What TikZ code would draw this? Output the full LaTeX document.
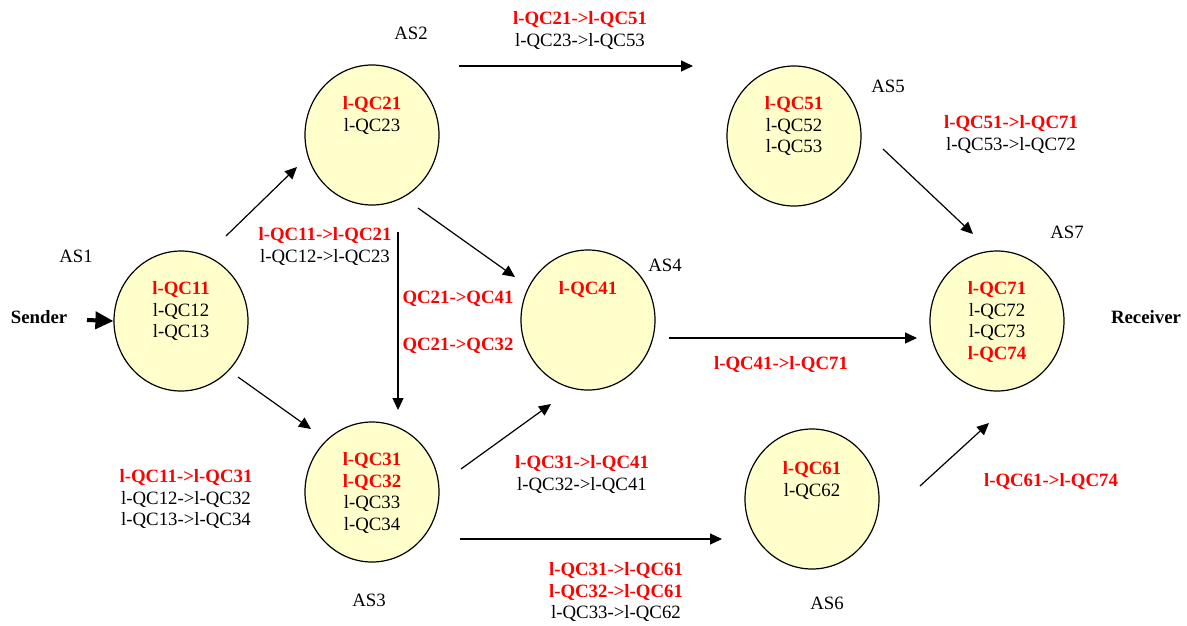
\documentclass[tikz,border=0pt]{standalone}
\usepackage{fontspec}
\setmainfont{Liberation Serif}
\usetikzlibrary{arrows.meta,shapes.geometric}
\definecolor{asfill}{HTML}{FFFFCC}
\definecolor{qcred}{HTML}{FF0000}
\newcommand\redqc[1]{{\color{qcred}\bfseries #1}}

\begin{document}
\begin{tikzpicture}[x=1pt,y=-1pt,
  asnode/.style={ellipse,draw=black,line width=1.2pt,fill=asfill,
    minimum width=134pt,minimum height=140pt,inner sep=0pt},
  txt/.style={inner sep=0pt,align=center,font=\fontsize{18.8}{21.5}\selectfont},
  qclist/.style={txt,anchor=north},
  boldtxt/.style={txt,font=\fontsize{18.8}{21.5}\selectfont\bfseries},
  redtxt/.style={boldtxt,text=qcred},
  flow/.style={line width=1.2pt,-{Triangle[length=12pt,width=11pt]}},
]
% canvas
\useasboundingbox (0,0) rectangle (1187,625);

% autonomous systems
\node[asnode] (as1) at (181,321) {};
\node[asnode] (as2) at (372,135) {};
\node[asnode] (as3) at (372,492) {};
\node[asnode] (as4) at (588,320) {};
\node[asnode] (as5) at (794,136) {};
\node[asnode] (as6) at (812,499) {};
\node[asnode] (as7) at (997,321) {};

% QC lists inside each AS
\node[qclist] (q1) at (181,281.5) {\redqc{l-QC11}\\l-QC12\\l-QC13};
\node[qclist] (q2) at (372,96.5)  {\redqc{l-QC21}\\l-QC23};
\node[qclist] (q3) at (372,452.5) {\redqc{l-QC31}\\\redqc{l-QC32}\\l-QC33\\l-QC34};
\node[qclist] (q4) at (588,281.5) {\redqc{l-QC41}};
\node[qclist] (q5) at (794,96.5)  {\redqc{l-QC51}\\l-QC52\\l-QC53};
\node[qclist] (q6) at (812,461.5) {\redqc{l-QC61}\\l-QC62};
\node[qclist] (q7) at (997,281.5) {\redqc{l-QC71}\\l-QC72\\l-QC73\\\redqc{l-QC74}};

% AS names
\node[txt] (n1) at (76,256)   {AS1};
\node[txt] (n2) at (411,33)   {AS2};
\node[txt] (n3) at (369,600)  {AS3};
\node[txt] (n4) at (665,265)  {AS4};
\node[txt] (n5) at (888,86)   {AS5};
\node[txt] (n6) at (827,603)  {AS6};
\node[txt] (n7) at (1067,232) {AS7};

% end points
\node[boldtxt] (sender) at (39,317) {Sender};
\node[boldtxt] (receiver) at (1146,317) {Receiver};
\coordinate (sendtail) at (87,320);
\draw[line width=4pt,-{Triangle[length=18pt,width=17pt]}] (sendtail) -- (as1.west);

% connector end points
\coordinate (c12a) at (226,236); \coordinate (c12b) at (297,167);
\coordinate (c13a) at (238,377); \coordinate (c13b) at (311,429);
\coordinate (c23a) at (398,232); \coordinate (c23b) at (398,410);
\coordinate (c24a) at (418,208); \coordinate (c24b) at (515,277);
\coordinate (c25a) at (459,66);  \coordinate (c25b) at (693,66);
\coordinate (c34a) at (461,469); \coordinate (c34b) at (551,404);
\coordinate (c36a) at (460,539); \coordinate (c36b) at (722,539);
\coordinate (c47a) at (669,338); \coordinate (c47b) at (917,338);
\coordinate (c57a) at (883,149); \coordinate (c57b) at (973,234);
\coordinate (c67a) at (920,486); \coordinate (c67b) at (989,423);

% connectors
\draw[flow] (c12a) -- (c12b);
\draw[flow] (c13a) -- (c13b);
\draw[flow] (c23a) -- (c23b);
\draw[flow] (c24a) -- (c24b);
\draw[flow] (c25a) -- (c25b);
\draw[flow] (c34a) -- (c34b);
\draw[flow] (c36a) -- (c36b);
\draw[flow] (c47a) -- (c47b);
\draw[flow] (c57a) -- (c57b);
\draw[flow] (c67a) -- (c67b);

% connector labels
\node[qclist] (e25) at (580,11.5)   {\redqc{l-QC21->l-QC51}\\l-QC23->l-QC53};
\node[qclist] (e12) at (325,227.5)  {\redqc{l-QC11->l-QC21}\\l-QC12->l-QC23};
\node[redtxt] (e24) at (458,299)    {QC21->QC41};
\node[redtxt] (e23) at (458,346)    {QC21->QC32};
\node[qclist] (e34) at (582,455.5)  {\redqc{l-QC31->l-QC41}\\l-QC32->l-QC41};
\node[redtxt] (e47) at (781,364)    {l-QC41->l-QC71};
\node[qclist] (e57) at (1011,115.5) {\redqc{l-QC51->l-QC71}\\l-QC53->l-QC72};
\node[redtxt] (e67) at (1051,481)   {l-QC61->l-QC74};
\node[qclist] (e36) at (616,562.5)  {\redqc{l-QC31->l-QC61}\\\redqc{l-QC32->l-QC61}\\l-QC33->l-QC62};
\node[qclist] (e13) at (186,469.5)  {\redqc{l-QC11->l-QC31}\\l-QC12->l-QC32\\l-QC13->l-QC34};
\end{tikzpicture}
\end{document}
